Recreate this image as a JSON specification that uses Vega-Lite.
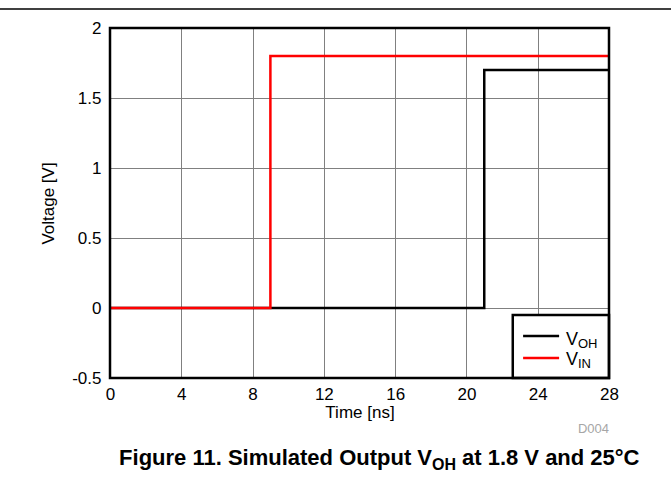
{
  "$schema": "https://vega.github.io/schema/vega-lite/v6.json",
  "width": 499,
  "height": 350,
  "autosize": {"type": "none"},
  "padding": {"left": 110, "top": 28, "right": 62, "bottom": 100},
  "background": "white",
  "config": {
    "view": {"stroke": null},
    "font": "Liberation Sans",
    "axis": {"labelFont": "Liberation Sans", "titleFont": "Liberation Sans", "labelColor": "black", "titleColor": "black", "labelFontSize": 17, "titleFontSize": 17, "titleFontWeight": "normal", "domain": false, "ticks": false, "tickSize": 0, "grid": true, "gridColor": "#808080", "gridWidth": 1, "labelFlush": false, "labelOverlap": false}
  },
  "data": {
    "values": [
      {"series": "VOH", "i": 0, "t": 0, "v": 0},
      {"series": "VOH", "i": 1, "t": 21, "v": 0},
      {"series": "VOH", "i": 2, "t": 21, "v": 1.7},
      {"series": "VOH", "i": 3, "t": 28, "v": 1.7},
      {"series": "VIN", "i": 0, "t": 0, "v": 0},
      {"series": "VIN", "i": 1, "t": 9, "v": 0},
      {"series": "VIN", "i": 2, "t": 9, "v": 1.8},
      {"series": "VIN", "i": 3, "t": 28, "v": 1.8}
    ]
  },
  "encoding": {
    "x": {"type": "quantitative", "scale": {"domain": [0, 28], "nice": false, "zero": false}},
    "y": {"type": "quantitative", "scale": {"domain": [-0.5, 2], "nice": false, "zero": false}}
  },
  "layer": [
    {
      "mark": {"type": "line", "color": "black", "strokeWidth": 2.5},
      "transform": [{"filter": "datum.series === 'VOH'"}],
      "encoding": {
        "x": {"field": "t", "type": "quantitative", "scale": {"domain": [0, 28], "nice": false, "zero": false},
              "axis": {"values": [0, 4, 8, 12, 16, 20, 24, 28], "title": "Time [ns]", "labelPadding": 8, "titlePadding": 2}},
        "y": {"field": "v", "type": "quantitative", "scale": {"domain": [-0.5, 2], "nice": false, "zero": false},
              "axis": {"values": [-0.5, 0, 0.5, 1, 1.5, 2], "title": "Voltage [V]", "labelExpr": "toString(datum.value)", "labelPadding": 9, "titlePadding": 14}},
        "order": {"field": "i"}
      }
    },
    {
      "mark": {"type": "line", "color": "#ff0000", "strokeWidth": 2.5},
      "transform": [{"filter": "datum.series === 'VIN'"}],
      "encoding": {
        "x": {"field": "t", "type": "quantitative"},
        "y": {"field": "v", "type": "quantitative"},
        "order": {"field": "i"}
      }
    },
    {
      "data": {"values": [{}]},
      "mark": {"type": "rect", "fill": "white", "stroke": "black", "strokeWidth": 2.5},
      "encoding": {"x": {"datum": 22.6}, "x2": {"datum": 28}, "y": {"datum": -0.05}, "y2": {"datum": -0.5}}
    },
    {
      "data": {"values": [{}]},
      "mark": {"type": "rect", "fill": null, "fillOpacity": 0, "stroke": "black", "strokeWidth": 2.5},
      "encoding": {"x": {"datum": 0}, "x2": {"datum": 28}, "y": {"datum": -0.5}, "y2": {"datum": 2}}
    },
    {
      "data": {"values": [{}]},
      "mark": {"type": "rule", "color": "black", "strokeWidth": 2.5},
      "encoding": {"x": {"datum": 23.18}, "x2": {"datum": 25.2}, "y": {"datum": -0.2}}
    },
    {
      "data": {"values": [{}]},
      "mark": {"type": "rule", "color": "#ff0000", "strokeWidth": 2.5},
      "encoding": {"x": {"datum": 23.18}, "x2": {"datum": 25.2}, "y": {"datum": -0.357}}
    },
    {
      "data": {"values": [{"label": "V", "sub": "OH", "y": -0.264, "ys": -0.286}, {"label": "V", "sub": "IN", "y": -0.407, "ys": -0.429}]},
      "layer": [
        {
          "mark": {"type": "text", "align": "left", "baseline": "alphabetic", "fontSize": 18, "color": "black", "font": "Liberation Sans"},
          "encoding": {"x": {"datum": 25.59}, "y": {"field": "y", "type": "quantitative"}, "text": {"field": "label"}}
        },
        {
          "mark": {"type": "text", "align": "left", "baseline": "alphabetic", "fontSize": 13, "color": "black", "font": "Liberation Sans"},
          "encoding": {"x": {"datum": 26.26}, "y": {"field": "ys", "type": "quantitative"}, "text": {"field": "sub"}}
        }
      ]
    },
    {
      "data": {"values": [{"text": "D004"}]},
      "mark": {"type": "text", "align": "right", "baseline": "alphabetic", "fontSize": 13, "color": "#a6a6a6", "font": "Liberation Sans"},
      "encoding": {"x": {"datum": 28}, "y": {"datum": -0.893}, "text": {"field": "text"}}
    },
    {
      "data": {"values": [{"a": "Figure 11. Simulated Output V", "b": "OH", "c": "at 1.8 V and 25°C"}]},
      "layer": [
        {
          "mark": {"type": "text", "align": "right", "baseline": "alphabetic", "fontSize": 22, "fontWeight": "bold", "color": "black", "font": "Liberation Sans"},
          "encoding": {"x": {"datum": 18.07}, "y": {"datum": -1.121}, "text": {"field": "a"}}
        },
        {
          "mark": {"type": "text", "align": "left", "baseline": "alphabetic", "fontSize": 16, "fontWeight": "bold", "color": "black", "font": "Liberation Sans"},
          "encoding": {"x": {"datum": 18.07}, "y": {"datum": -1.157}, "text": {"field": "b"}}
        },
        {
          "mark": {"type": "text", "align": "left", "baseline": "alphabetic", "fontSize": 22, "fontWeight": "bold", "color": "black", "font": "Liberation Sans"},
          "encoding": {"x": {"datum": 19.75}, "y": {"datum": -1.121}, "text": {"field": "c"}}
        }
      ]
    },
    {
      "data": {"values": [{}]},
      "mark": {"type": "rule", "color": "black", "strokeWidth": 1.5},
      "encoding": {"x": {"datum": -6.2}, "x2": {"datum": 31.5}, "y": {"datum": 2.136}}
    }
  ]
}
